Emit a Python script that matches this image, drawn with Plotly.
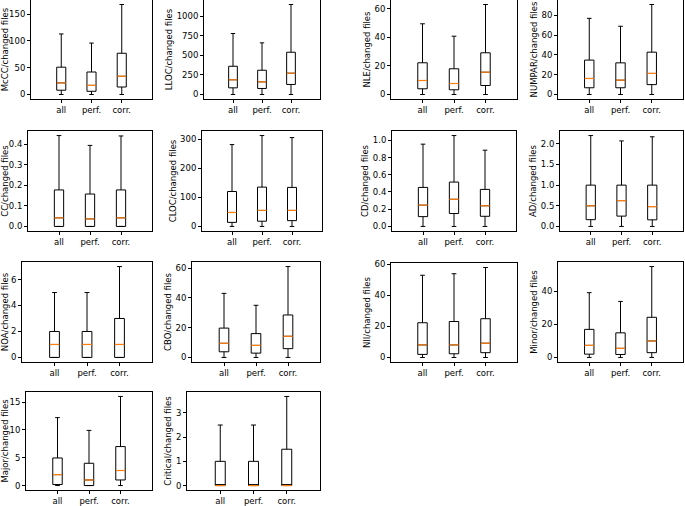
import plotly.graph_objects as go

groups = ["all", "perf.", "corr."]
positions = [1, 2, 3]

# each entry: [lower whisker, Q1, median, Q3, upper whisker] for all / perf. / corr.
mccc = [[0, 8, 21.7, 51, 113], [0, 6, 17, 42, 96], [0, 14, 34, 77, 168]]
lloc = [[0, 85, 188, 361, 779], [0, 77, 162, 310, 660], [0, 128, 272, 540, 1150]]
nle = [[0, 4, 9.8, 22.2, 49.5], [0, 3.3, 7.7, 18, 40.8], [0, 6.3, 15.6, 29.2, 63]]
numpar = [[0, 6.8, 16.2, 34.8, 77], [0, 6.8, 14.5, 32, 69], [0, 10, 21.3, 42.8, 91]]
cc = [[0, 0, 0.042, 0.178, 0.443], [0, 0, 0.037, 0.158, 0.395], [0, 0, 0.042, 0.178, 0.441]]
cloc = [[0, 14, 48, 120, 281], [0, 18, 55, 135, 312], [0, 20, 55, 134, 305]]
cd = [[0, 0.114, 0.247, 0.453, 0.955], [0, 0.15, 0.315, 0.515, 1.055], [0, 0.118, 0.24, 0.43, 0.885]]
ad = [[0, 0.164, 0.5, 1.0, 2.2], [0, 0.25, 0.625, 1.0, 2.07], [0, 0.16, 0.48, 1.0, 2.17]]
noa = [[0, 0, 1, 2, 5], [0, 0, 1, 2, 5], [0, 0, 1, 3, 7]]
cbo = [[0, 3.8, 9.5, 19.7, 43], [0, 2.9, 8.1, 16, 35], [0, 5.9, 14.2, 28.5, 61]]
nii = [[0, 2, 8.1, 22.4, 53], [0, 2.4, 8.1, 23.2, 54], [0, 3.1, 9.2, 25, 58]]
minor = [[0, 2, 7.3, 17, 39.2], [0, 1.8, 5.5, 14.9, 33.9], [0, 2.9, 10, 24.3, 55]]
major = [[0, 0.18, 1.96, 4.95, 12.2], [0, 0, 1.0, 4.0, 9.9], [0, 1.0, 2.7, 7.0, 16]]
critical = [[0, 0, 0, 1, 2.5], [0, 0, 0, 1, 2.5], [0, 0, 0, 1.5, 3.68]]

W, H = 685, 506

# (y title, stats, dtick, tickformat, [left, right, top, bottom] in pixels)
panels = [
    ("McCC/changed files", mccc, 50, "", [31, 152, 0, 99]),
    ("LLOC/changed files", lloc, 250, "", [204, 320, 0, 99]),
    ("NLE/changed files", nle, 20, "", [391, 517, 0, 99]),
    ("NUMPAR/changed files", numpar, 20, "", [558, 683, 0, 99]),
    ("CC/changed files", cc, 0.1, ".1f", [28, 152, 131, 231]),
    ("CLOC/changed files", cloc, 100, "", [202, 322, 131, 231]),
    ("CD/changed files", cd, 0.2, ".1f", [392, 516, 131, 231]),
    ("AD/changed files", ad, 0.5, ".1f", [560, 683, 131, 231]),
    ("NOA/changed files", noa, 2, "", [22, 152, 262, 362]),
    ("CBO/changed files", cbo, 20, "", [192, 320, 262, 362]),
    ("NII/changed files", nii, 20, "", [391, 517, 263, 362]),
    ("Minor/changed files", minor, 20, "", [558, 683, 262, 362]),
    ("Major/changed files", major, 5, "", [26, 152, 392, 490]),
    ("Critical/changed files", critical, 1, "", [187, 320, 392, 490]),
]

fig = go.Figure()
layout = dict(
    width=W, height=H,
    margin=dict(l=0, r=0, t=0, b=0, autoexpand=False),
    plot_bgcolor="white", paper_bgcolor="white",
    font=dict(family="DejaVu Sans", size=8.5, color="black"),
    showlegend=False,
)

box_w = 0.3
for i, (title, stats, dtick, fmt, px) in enumerate(panels, start=1):
    xa = "x" if i == 1 else f"x{i}"
    ya = "y" if i == 1 else f"y{i}"
    lo = [s[0] for s in stats]
    q1 = [s[1] for s in stats]
    med = [s[2] for s in stats]
    q3 = [s[3] for s in stats]
    hi = [s[4] for s in stats]
    fig.add_trace(go.Box(
        x=positions, q1=q1, median=med, q3=q3, lowerfence=lo, upperfence=hi,
        width=box_w, whiskerwidth=0.5, boxpoints=False,
        line=dict(color="black", width=1), fillcolor="rgba(0,0,0,0)",
        xaxis=xa, yaxis=ya, hoverinfo="skip",
    ))
    mx, my = [], []
    for p, m in zip(positions, med):
        mx += [p - box_w / 2, p + box_w / 2, None]
        my += [m, m, None]
    fig.add_trace(go.Scatter(
        x=mx, y=my, mode="lines", line=dict(color="#ff7f0e", width=1.2),
        xaxis=xa, yaxis=ya, hoverinfo="skip",
    ))
    dmin, dmax = min(lo), max(hi)
    pad = 0.05 * (dmax - dmin)
    x0, x1, y0, y1 = px
    axis_common = dict(
        showline=True, mirror=True, linecolor="black", linewidth=1,
        ticks="outside", ticklen=3, tickwidth=1, tickcolor="black",
        showgrid=False, zeroline=False, automargin=False,
    )
    layout["xaxis" if i == 1 else f"xaxis{i}"] = dict(
        domain=[x0 / W, x1 / W], range=[0, 4],
        tickmode="array", tickvals=positions, ticktext=groups,
        anchor=ya, **axis_common,
    )
    layout["yaxis" if i == 1 else f"yaxis{i}"] = dict(
        domain=[1 - y1 / H, 1 - y0 / H], range=[dmin - pad, dmax + pad],
        tick0=0, dtick=dtick, tickformat=fmt,
        title=dict(text=title, font=dict(size=8.5), standoff=2),
        anchor=xa, **axis_common,
    )

fig.update_layout(**layout)
fig.write_html(
    "out.html",
    config={"displayModeBar": False, "staticPlot": True},
    post_script="document.body.style.margin='0';document.body.style.overflow='hidden';",
)
